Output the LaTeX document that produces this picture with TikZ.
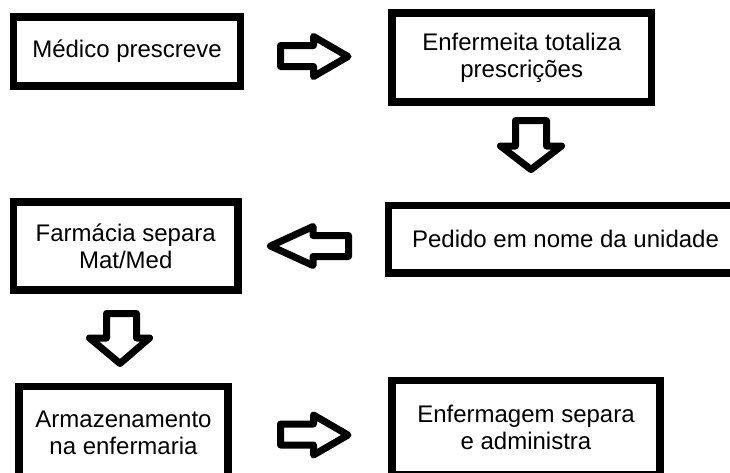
\documentclass[tikz,border=0pt]{standalone}
\usepackage{fontspec}
\setmainfont{Liberation Sans}
\begin{document}
\begin{tikzpicture}[x=1pt,y=-1pt,
  box/.style={draw=black, line width=7.5pt, fill=white, inner sep=0pt,
    align=center, font=\fontsize{24}{27}\selectfont},
  blockarrow/.style={draw=black, line width=7pt, line join=round, fill=white}]
\useasboundingbox (0,0) rectangle (730,472);
\clip (0,0) rectangle (730,472);
% boxes
\node[box, minimum width=227pt, minimum height=69pt] (b1) at (127,51.5) {Médico prescreve};
\node[box, minimum width=259.5pt, minimum height=89pt] (b2) at (521.75,57.5) {Enfermeita totaliza\\prescrições};
\node[box, minimum width=354pt, minimum height=67.5pt] (b4) at (565.5,239.25) {Pedido em nome da unidade};
\node[box, minimum width=224.5pt, minimum height=88pt] (b3) at (125.75,246) {Farmácia separa\\Mat/Med};
\node[box, minimum width=209pt, minimum height=92pt] (b5) at (123.5,432.5) {Armazenamento\\na enfermaria};
\node[box, minimum width=268pt, minimum height=94.5pt] (b6) at (526,427.75) {Enfermagem separa\\e administra};
% block arrows
\draw[blockarrow] (280.5,45.5) -- (313.5,45.5) -- (313.5,36.5) -- (348,56.5) -- (313.5,76.5) -- (313.5,66.5) -- (280.5,66.5) -- cycle;
\draw[blockarrow] (515.5,120.5) -- (546.5,120.5) -- (546.5,146) -- (561.5,146) -- (531,169.5) -- (500.5,146) -- (515.5,146) -- cycle;
\draw[blockarrow] (348.5,235.5) -- (313,235.5) -- (313,226.5) -- (270.5,246) -- (313,265.5) -- (313,256.5) -- (348.5,256.5) -- cycle;
\draw[blockarrow] (106.5,313.5) -- (136.5,313.5) -- (136.5,338) -- (149.5,338) -- (120,363.5) -- (89.5,338) -- (106.5,338) -- cycle;
\draw[blockarrow] (280.5,424) -- (313.5,424) -- (313.5,415) -- (348,435) -- (313.5,455) -- (313.5,445) -- (280.5,445) -- cycle;
\end{tikzpicture}
\end{document}
